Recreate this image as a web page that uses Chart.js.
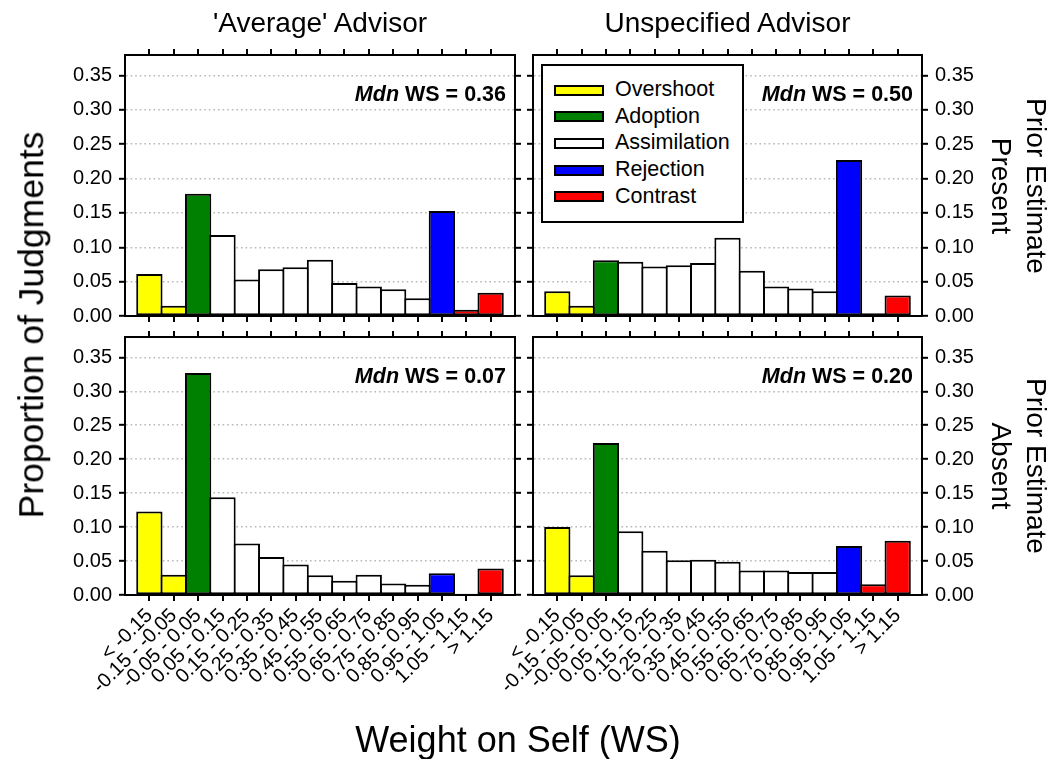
<!DOCTYPE html>
<html>
<head>
<meta charset="utf-8">
<script src="https://cdn.jsdelivr.net/npm/chart.js@4"></script>
<style>
  html, body { margin: 0; padding: 0; background: #fff; }
  #wrap { position: relative; width: 1053px; height: 759px; overflow: hidden;
          font-family: 'Liberation Sans', Arial, sans-serif; color: #000; }
  #wrap canvas { position: absolute; left: 0; top: 0; }
  .txt { position: absolute; white-space: nowrap; line-height: 1; }
  .mdn { position: absolute; white-space: nowrap; line-height: 1; font-weight: bold; font-size: 21.5px;
         transform: translateY(-50%); }
  #legend { position: absolute; left: 541px; top: 64px; width: 203px; height: 159px; box-sizing: border-box;
            border: 2px solid #000; background: #fff; padding-top: 10.6px; }
  #legend .row { position: relative; height: 26.7px; }
  #legend .sw { position: absolute; left: 11px; top: 8px; width: 50px; height: 11px; box-sizing: border-box;
                border: 2px solid #000; }
  #legend .lab { position: absolute; left: 72px; top: 50%; transform: translateY(-50%); font-size: 21.5px;
                 line-height: 1; white-space: nowrap; }
</style>
</head>
<body>
<div id="wrap">
  <canvas id="c0" width="1053" height="759"></canvas>
  <canvas id="c1" width="1053" height="759"></canvas>
  <canvas id="c2" width="1053" height="759"></canvas>
  <canvas id="c3" width="1053" height="759"></canvas>
</div>
<script>
// Weight-on-self bins (x categories)
const categories = ['< -0.15', '-0.15 - -0.05', '-0.05 - 0.05', '0.05 - 0.15', '0.15 - 0.25',
  '0.25 - 0.35', '0.35 - 0.45', '0.45 - 0.55', '0.55 - 0.65', '0.65 - 0.75', '0.75 - 0.85',
  '0.85 - 0.95', '0.95 - 1.05', '1.05 - 1.15', '> 1.15'];

// Response type of each bin
const binTypes = ['Overshoot', 'Overshoot', 'Adoption',
  'Assimilation', 'Assimilation', 'Assimilation', 'Assimilation', 'Assimilation',
  'Assimilation', 'Assimilation', 'Assimilation', 'Assimilation',
  'Rejection', 'Contrast', 'Contrast'];

const typeNames = ['Overshoot', 'Adoption', 'Assimilation', 'Rejection', 'Contrast'];
const typeColors = ['#ffff00', '#008000', '#ffffff', '#0000ff', '#ff0000'];

// Proportion of judgments per bin
const averagePresent = [0.061, 0.015, 0.178, 0.118, 0.053, 0.068, 0.071, 0.082, 0.048, 0.043, 0.039, 0.026, 0.153, 0.009, 0.034];
const unspecifiedPresent = [0.036, 0.015, 0.081, 0.079, 0.072, 0.074, 0.077, 0.114, 0.066, 0.043, 0.040, 0.036, 0.227, 0.004, 0.030];
const averageAbsent = [0.123, 0.030, 0.327, 0.144, 0.076, 0.056, 0.045, 0.029, 0.021, 0.030, 0.017, 0.015, 0.032, 0.002, 0.039];
const unspecifiedAbsent = [0.100, 0.029, 0.224, 0.094, 0.065, 0.051, 0.052, 0.049, 0.036, 0.036, 0.034, 0.034, 0.072, 0.016, 0.080];

// Median weight on self for each panel
const medianWS = ['0.36', '0.50', '0.07', '0.20'];

// Y tick labels
const yTickValues = [0, 0.05, 0.10, 0.15, 0.20, 0.25, 0.30, 0.35];

const columnTitles = ["'Average' Advisor", 'Unspecified Advisor'];
const rowTitles = [['Prior Estimate', 'Present'], ['Prior Estimate', 'Absent']];
const yTitle = 'Proportion of Judgments';
const xTitle = 'Weight on Self (WS)';

const FONT = "'Liberation Sans', Arial, sans-serif";
const W = 1053, H = 759;

// Panel frames: left, top, right, bottom of each plot area
const panels = [
  { values: averagePresent,     L: 125, T: 55,  R: 515, B: 316, left: true,  right: false, bottom: false },
  { values: unspecifiedPresent, L: 533, T: 55,  R: 922, B: 316, left: false, right: true,  bottom: false },
  { values: averageAbsent,      L: 125, T: 337, R: 515, B: 595, left: true,  right: false, bottom: true },
  { values: unspecifiedAbsent,  L: 533, T: 337, R: 922, B: 595, left: false, right: true,  bottom: true }
];

const barColors = binTypes.map(t => typeColors[typeNames.indexOf(t)]);

function makePanel(canvasId, p) {
  const AXW = 60, AXB = p.bottom ? 130 : 10, AXT = 10;
  const tickFont = { family: FONT, size: 20 };
  const xTicks = s => { s.ticks = categories.map((_, i) => ({ value: i })); };
  const yTicks = s => { s.ticks = yTickValues.map(v => ({ value: v })); };

  const xAxis = (position, showLabels, height) => ({
    type: 'linear', position, min: -1, max: 15, offset: false,
    afterBuildTicks: xTicks,
    afterFit: s => { s.height = height; },
    ticks: { display: showLabels, font: { family: FONT, size: 20 }, color: '#000', autoSkip: false,
             minRotation: 45, maxRotation: 45, padding: 3, callback: v => categories[v] },
    grid: { offset: false, drawOnChartArea: false, drawTicks: true, tickLength: 6, tickWidth: 2,
            tickColor: '#000', color: '#000', lineWidth: 2 },
    border: { display: true, color: '#000', width: 2 }
  });

  const yAxis = (position, showLabels, drawGrid) => ({
    type: 'linear', position, min: 0, max: 0.38,
    afterBuildTicks: yTicks,
    afterFit: s => { s.width = AXW; },
    ticks: { display: showLabels, font: tickFont, color: '#000', padding: 7, callback: v => Number(v).toFixed(2) },
    grid: { drawOnChartArea: drawGrid, drawTicks: true, tickLength: 6, tickWidth: 2, tickColor: '#000',
            tickBorderDash: [], lineWidth: 1.6,
            color: c => (c.tick && c.tick.value > 0) ? '#b8b8b8' : 'rgba(0,0,0,0)' },
    border: { display: true, color: '#000', width: 2, dash: [1.6, 3] }
  });

  return new Chart(document.getElementById(canvasId), {
    type: 'bar',
    data: {
      datasets: [{
        data: p.values.map((v, i) => ({ x: i, y: v })),
        backgroundColor: barColors,
        borderColor: '#000',
        borderWidth: 2,
        borderSkipped: false,
        inflateAmount: 0,
        barPercentage: 1.08,
        categoryPercentage: 1
      }]
    },
    options: {
      responsive: false,
      animation: false,
      devicePixelRatio: 1,
      layout: { padding: { left: p.L - AXW, right: W - p.R - AXW, top: p.T - AXT, bottom: H - p.B - AXB } },
      plugins: { legend: { display: false }, tooltip: { enabled: false }, title: { display: false } },
      events: [],
      scales: {
        x: xAxis('bottom', p.bottom, AXB),
        x2: xAxis('top', false, AXT),
        y: yAxis('left', p.left, true),
        y2: yAxis('right', p.right, false)
      }
    }
  });
}

panels.forEach((p, i) => makePanel('c' + i, p));

// Text overlays
const wrap = document.getElementById('wrap');
function addText(html, css) {
  const d = document.createElement('div');
  d.className = 'txt';
  d.innerHTML = html;
  Object.assign(d.style, css);
  wrap.appendChild(d);
  return d;
}

// Column titles
columnTitles.forEach((t, i) => {
  const p = panels[i];
  addText(t, { left: ((p.L + p.R) / 2) + 'px', top: '23px', fontSize: '28px', transform: 'translate(-50%, -50%)' });
});

// Row titles (rotated clockwise)
rowTitles.forEach((lines, r) => {
  const p = panels[r * 2 + 1];
  addText(lines.join('<br>'), { left: '1018.5px', top: ((p.T + p.B) / 2) + 'px', fontSize: '28px',
    lineHeight: '35px', textAlign: 'center', transform: 'translate(-50%, -50%) rotate(90deg)' });
});

// Axis titles
addText(yTitle, { left: '32px', top: '325px', fontSize: '35.5px', transform: 'translate(-50%, -50%) rotate(-90deg)' });
addText(xTitle, { left: '518px', top: '740px', fontSize: '36px', transform: 'translate(-50%, -50%)' });

// Median annotations
panels.forEach((p, i) => {
  const d = document.createElement('div');
  d.className = 'mdn';
  d.innerHTML = '<i>Mdn</i> WS = ' + medianWS[i];
  d.style.right = (W - (p.R - 9)) + 'px';
  d.style.top = (p.T + 40) + 'px';
  wrap.appendChild(d);
});

// Legend
const lg = document.createElement('div');
lg.id = 'legend';
typeNames.forEach((name, i) => {
  const row = document.createElement('div');
  row.className = 'row';
  row.innerHTML = '<div class="sw" style="background:' + typeColors[i] + '"></div><div class="lab">' + name + '</div>';
  lg.appendChild(row);
});
wrap.appendChild(lg);
</script>
</body>
</html>
